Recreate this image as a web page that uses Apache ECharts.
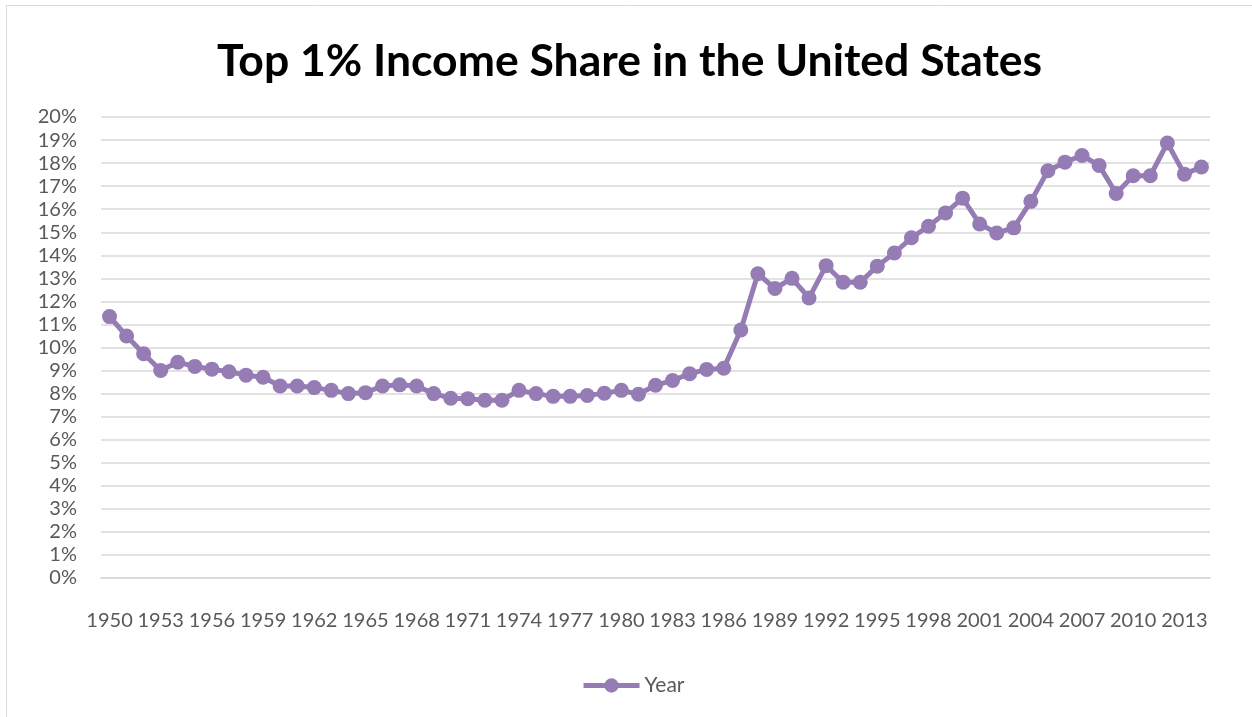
<!DOCTYPE html>
<html>
<head>
<meta charset="utf-8">
<title>Top 1% Income Share in the United States</title>
<script src="https://cdn.jsdelivr.net/npm/echarts@6/dist/echarts.min.js"></script>
<style>
  html, body { margin: 0; padding: 0; background: #fff; }
  #chart { width: 1252px; height: 717px; }
</style>
</head>
<body>
<div id="chart"></div>
<script>
var years = [];
for (var y = 1950; y <= 2014; y++) years.push(String(y));

// top 1% income share, percent
var topShare = [
  11.34, 10.5, 9.73, 9.0, 9.36, 9.18, 9.06, 8.95, 8.8, 8.71,
  8.33, 8.33, 8.26, 8.14, 8.0, 8.04, 8.33, 8.38, 8.33, 8.0,
  7.8, 7.78, 7.71, 7.71, 8.14, 8.0, 7.88, 7.88, 7.92, 8.02,
  8.14, 7.97, 8.36, 8.57, 8.86, 9.05, 9.1, 10.76, 13.2, 12.56,
  13.0, 12.15, 13.55, 12.83, 12.83, 13.53, 14.1, 14.76, 15.26, 15.84,
  16.48, 15.36, 14.97, 15.19, 16.34, 17.67, 18.04, 18.33, 17.9, 16.68,
  17.45, 17.45, 18.87, 17.52, 17.83
];

var purple = '#957cb4';
var labelColor = '#595959';
var gridColor = '#d9d9d9';

const myChart = echarts.init(document.getElementById('chart'));

let option = {
  animation: false,
  graphic: [{
    type: 'rect',
    shape: { x: 6.5, y: 5.5, width: 1400, height: 900 },
    style: { fill: 'none', stroke: gridColor, lineWidth: 1 },
    silent: true
  }],
  title: {
    text: 'Top 1% Income Share in the United States',
    left: 212,
    top: 34,
    textStyle: {
      fontFamily: 'Lato',
      fontWeight: 'bold',
      fontSize: 44.5,
      color: '#000'
    }
  },
  legend: {
    data: ['Year'],
    bottom: 16,
    left: 576,
    itemWidth: 56,
    itemHeight: 18,
    itemGap: 4,
    lineStyle: { width: 5 },
    textStyle: { fontFamily: 'Lato', fontSize: 21, color: labelColor }
  },
  grid: {
    left: 101,
    right: 42,
    top: 117,
    bottom: 139
  },
  xAxis: {
    type: 'category',
    boundaryGap: true,
    data: years,
    axisLine: { show: true, lineStyle: { color: gridColor, width: 1.5 } },
    axisTick: { show: false },
    axisLabel: {
      interval: 2,
      margin: 33,
      fontFamily: 'Lato',
      fontSize: 20,
      color: labelColor
    }
  },
  yAxis: {
    type: 'value',
    min: 0,
    max: 20,
    interval: 1,
    axisLine: { show: false },
    axisTick: { show: false },
    splitLine: { lineStyle: { color: gridColor, width: 1.5 } },
    axisLabel: {
      formatter: '{value}%',
      margin: 24,
      fontFamily: 'Lato',
      fontSize: 20,
      color: labelColor
    }
  },
  series: [{
    name: 'Year',
    type: 'line',
    data: topShare,
    symbol: 'circle',
    symbolSize: 15,
    showAllSymbol: true,
    lineStyle: { color: purple, width: 5 },
    itemStyle: { color: purple }
  }]
};

myChart.setOption(option);
</script>
</body>
</html>
